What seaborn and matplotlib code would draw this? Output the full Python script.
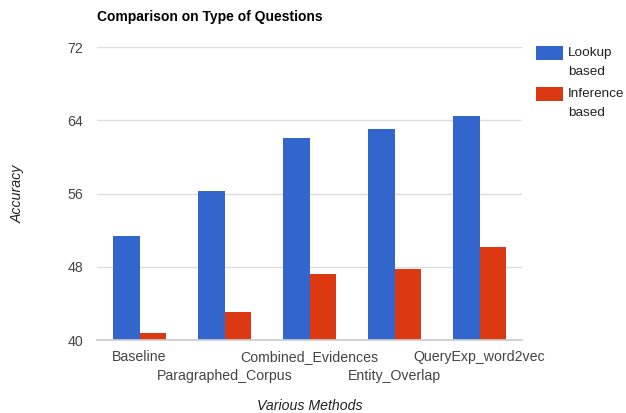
import matplotlib
matplotlib.use("Agg")
import matplotlib.pyplot as plt
import matplotlib.transforms as mtransforms
import seaborn as sns
import pandas as pd
from matplotlib.patches import Rectangle

methods = ["Baseline", "Paragraphed_Corpus", "Combined_Evidences", "Entity_Overlap", "QueryExp_word2vec"]
lookup = [51.4, 56.3, 62.1, 63.0, 64.5]
inference = [40.8, 43.1, 47.2, 47.8, 50.2]
series = ["Lookup based", "Inference based"]
legend_lines = [["Lookup", "based"], ["Inference", "based"]]
yticks = [40, 48, 56, 64, 72]

df = pd.DataFrame({
    "Method": methods * 2,
    "Accuracy": lookup + inference,
    "Type": [series[0]] * len(methods) + [series[1]] * len(methods),
})

sns.set_theme(style="white")
plt.rcParams["font.family"] = ["Liberation Sans", "DejaVu Sans"]

FS = 10.2
W, H = 626, 413
fig = plt.figure(figsize=(6.26, 4.13), dpi=100)
ax = fig.add_axes([97/W, 1 - 340/H, (522-97)/W, (340-47)/H])

colors = ["#3366cc", "#dc3912"]
sns.barplot(data=df, x="Method", y="Accuracy", hue="Type", order=methods,
            hue_order=series, palette=colors, width=0.62, ax=ax,
            saturation=1, legend=False, edgecolor="none")

ax.set_ylim(40, 72)
ax.set_xlim(-0.5, len(methods) - 0.5)
ax.set_yticks(yticks)
ax.set_yticklabels([str(v) for v in yticks])
ax.yaxis.grid(True, color="#dddddd", linewidth=1)
ax.set_axisbelow(True)
for s in ["top", "right", "left"]:
    ax.spines[s].set_visible(False)
ax.spines["bottom"].set_color("#cccccc")
ax.tick_params(axis="both", length=0, labelsize=FS, colors="#444444")
ax.tick_params(axis="y", pad=10)
ax.tick_params(axis="x", pad=7)
ax.set_xticks(range(len(methods)))
ax.set_xticklabels(methods)
shift = mtransforms.ScaledTranslation(0, -19/100, fig.dpi_scale_trans)
for i, lab in enumerate(ax.get_xticklabels()):
    if i % 2 == 1:
        lab.set_transform(lab.get_transform() + shift)

ax.set_xlabel("Various Methods", fontsize=FS, style="italic", color="#222222")
ax.xaxis.set_label_coords(0.5, (340 - 406) / (340 - 47))
ax.xaxis.label.set_va("center")
ax.set_ylabel("Accuracy", fontsize=FS, style="italic", color="#222222")
ax.yaxis.set_label_coords((18 - 97) / (522 - 97), 0.5)
ax.yaxis.label.set_va("center")

fig.text(97/W, 1 - 17/H, "Comparison on Type of Questions", fontsize=10,
         fontweight="bold", color="#000000", va="center", ha="left")

# legend
tops = [46, 87]
for c, top, lines in zip(colors, tops, legend_lines):
    fig.patches.append(Rectangle((536/W, 1 - (top + 14)/H), 27/W, 14/H,
                                 transform=fig.transFigure, facecolor=c,
                                 edgecolor="none"))
    for j, line in enumerate(lines):
        fig.text(568/W, 1 - (top + 7 + 19*j)/H, line, fontsize=9.7,
                 color="#222222", va="center", ha="left")

fig.savefig("out.png", dpi=100)
